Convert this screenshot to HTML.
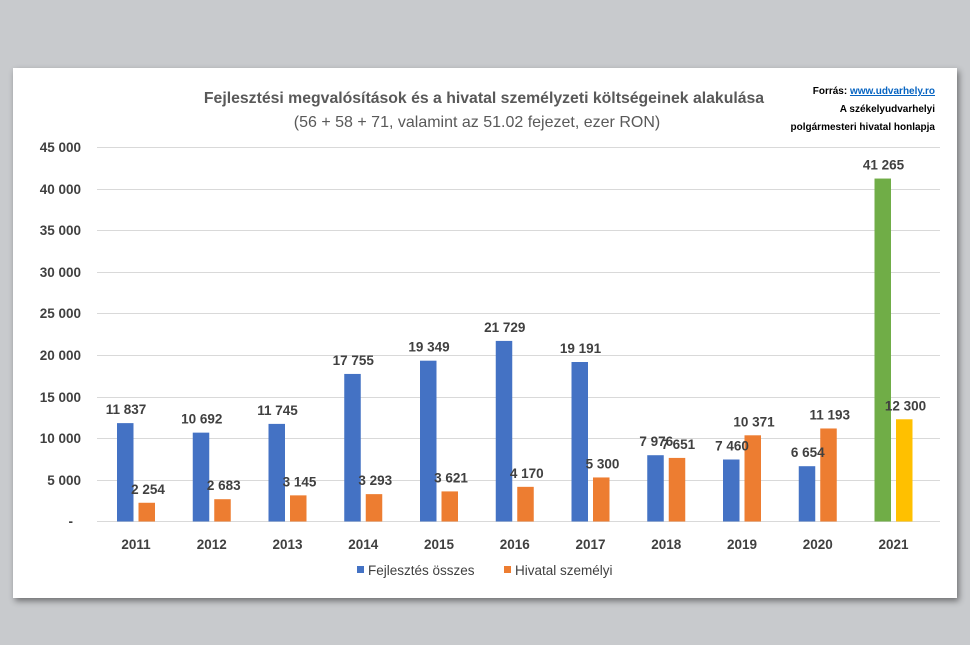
<!DOCTYPE html>
<html><head><meta charset="utf-8"><style>
html,body{margin:0;padding:0;width:970px;height:645px;overflow:hidden;background:#c8cacd;}
#p{position:absolute;left:13px;top:68px;width:944px;height:530px;background:#fff;box-shadow:2px 3px 6px rgba(0,0,0,.45);}
svg{position:absolute;left:0;top:0;}
text{font-family:"Liberation Sans",sans-serif;}
</style></head><body>
<div id="p"></div>
<svg width="970" height="645" xmlns="http://www.w3.org/2000/svg">
<g stroke="#d9d9d9" stroke-width="1">
<line x1="97" x2="940" y1="147.5" y2="147.5"/><line x1="97" x2="940" y1="189.5" y2="189.5"/>
<line x1="97" x2="940" y1="230.5" y2="230.5"/><line x1="97" x2="940" y1="272.5" y2="272.5"/>
<line x1="97" x2="940" y1="313.5" y2="313.5"/><line x1="97" x2="940" y1="355.5" y2="355.5"/>
<line x1="97" x2="940" y1="397.5" y2="397.5"/><line x1="97" x2="940" y1="438.5" y2="438.5"/>
<line x1="97" x2="940" y1="480.5" y2="480.5"/><line x1="97" x2="940" y1="521.5" y2="521.5"/>
</g>
<g font-size="13.5" font-weight="bold" fill="#404040" text-anchor="end">
<text x="81" y="152">45 000</text><text x="81" y="194">40 000</text><text x="81" y="235">35 000</text>
<text x="81" y="277">30 000</text><text x="81" y="318">25 000</text><text x="81" y="360">20 000</text>
<text x="81" y="402">15 000</text><text x="81" y="443">10 000</text><text x="81" y="485">5 000</text>
<text x="73" y="526">-</text>
</g>
<text x="484" y="103" text-anchor="middle" font-size="15.8" font-weight="bold" fill="#595959">Fejlesztési megvalósítások és a hivatal személyzeti költségeinek alakulása</text>
<text x="477" y="127" text-anchor="middle" font-size="16" fill="#595959">(56 + 58 + 71, valamint az 51.02 fejezet, ezer RON)</text>
<g font-size="10" font-weight="bold" fill="#000" text-anchor="end">
<text x="935" y="94">Forrás: <tspan fill="#0563c1" text-decoration="underline">www.udvarhely.ro</tspan></text>
<text x="935" y="112">A székelyudvarhelyi</text>
<text x="935" y="130">polgármesteri hivatal honlapja</text>
</g>
<g id="bars" font-size="13.5" font-weight="bold" fill="#404040" text-anchor="middle"></g>
<g font-size="13.5" fill="#404040">
<rect x="357" y="566" width="7" height="7" fill="#4472c4"/><text x="368" y="575">Fejlesztés összes</text>
<rect x="504" y="566" width="7" height="7" fill="#ed7d31"/><text x="515" y="575">Hivatal személyi</text>
</g>
</svg>
<script>
var b=[11837,10692,11745,17755,19349,21729,19191,7976,7460,6654,41265],o=[2254,2683,3145,3293,3621,4170,5300,7651,10371,11193,12300];
var g=document.getElementById('bars'),s='',k=374/45000,z=521.5;
function f(v){return v>=1000?Math.floor(v/1000)+' '+String(v%1000).padStart(3,'0'):''+v}
for(var i=0;i<11;i++){var c=136+75.75*i,hb=b[i]*k,ho=o[i]*k;
var cb=i==10?'#70ad47':'#4472c4',co=i==10?'#ffc000':'#ed7d31';
s+='<rect x="'+(c-19)+'" y="'+(z-hb)+'" width="16.5" height="'+hb+'" fill="'+cb+'"/>';
s+='<rect x="'+(c+2.5)+'" y="'+(z-ho)+'" width="16.5" height="'+ho+'" fill="'+co+'"/>';
s+='<text x="'+(c-10)+'" y="'+(z-hb-9)+'">'+f(b[i])+'</text>';
s+='<text x="'+(c+12)+'" y="'+(z-ho-9)+'">'+f(o[i])+'</text>';
s+='<text x="'+c+'" y="549">'+(2011+i)+'</text>';}
g.innerHTML=s;
</script>
</body></html>
